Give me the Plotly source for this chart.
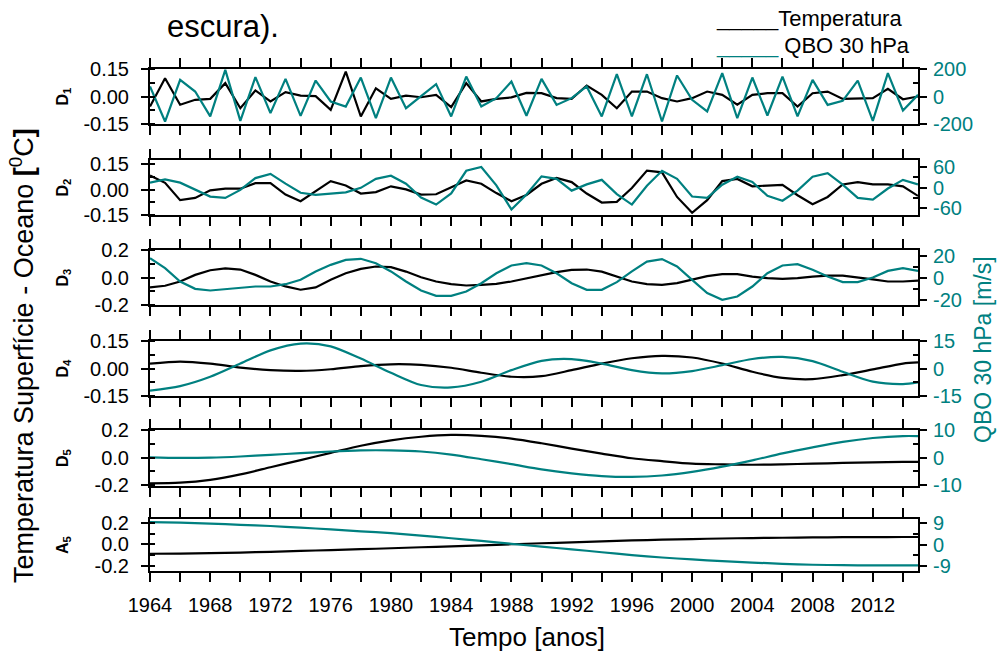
import plotly.graph_objects as go

# ---------------- data ----------------
years = list(range(1964, 2016))
years2 = list(range(1964, 2015, 2)) + [2015]

d1_temp = [-0.055, 0.10, -0.045, -0.018, -0.013, 0.073, -0.064, 0.033, -0.027, 0.024, 0.005, 0.002,
           -0.073, 0.136, -0.109, 0.045, -0.013, 0.005, -0.004, 0.009, -0.058, 0.073, -0.027, -0.013,
           -0.005, 0.020, 0.018, -0.009, -0.013, 0.060, 0.009, -0.064, 0.027, 0.027, -0.009, -0.027,
           -0.009, 0.027, 0.009, -0.045, 0.009, 0.018, 0.018, -0.055, 0.018, 0.027, -0.013, -0.009,
           -0.009, 0.042, -0.015, 0.0]
d1_qbo = [73, -182, 121, 36, -145, 194, -177, 141, -121, 128, -141, 116,
          -36, -73, 138, -158, 138, -85, 2, 90, -145, 145, -73, -12,
          109, -140, 128, -61, -12, 73, -145, 162, -145, 162, -182, 153,
          -24, -109, 170, -158, 138, -138, 145, -145, 121, -61, -32, 116,
          -177, 170, -102, 12]

d2_temp = [0.084, 0.041, -0.062, -0.049, -0.004, 0.006, 0.006, 0.039, 0.039, -0.029, -0.068, -0.010,
           0.051, 0.025, -0.023, -0.014, 0.020, 0.002, -0.029, -0.027, 0.016, 0.055, 0.035, -0.020,
           -0.068, -0.031, 0.035, 0.070, 0.045, -0.023, -0.076, -0.072, 0.010, 0.113, 0.103, -0.043,
           -0.137, -0.062, 0.051, 0.064, 0.020, 0.025, 0.029, -0.033, -0.086, -0.043, 0.031, 0.045,
           0.031, 0.031, 0.020, -0.037]
d2_qbo = [14, 23, 14, -6, -26, -30, -7, 27, 39, 11, -15, -21,
          -18, -14, -1, 25, 34, 11, -29, -49, -17, 48, 59, 6,
          -63, -20, 32, 25, -9, 9, 22, -19, -49, 5, 48, 25,
          -26, -30, 8, 31, 16, -24, -38, -9, 31, 41, 8, -30,
          -35, -3, 22, 9]

d3_temp = [-0.072, -0.060, -0.029, 0.019, 0.053, 0.067, 0.058, 0.019, -0.029, -0.065, -0.089, -0.072,
           -0.017, 0.031, 0.063, 0.080, 0.075, 0.043, 0.002, -0.029, -0.048, -0.058, -0.053, -0.046,
           -0.029, -0.005, 0.019, 0.039, 0.055, 0.058, 0.043, 0.007, -0.029, -0.048, -0.053, -0.041,
           -0.017, 0.010, 0.024, 0.024, 0.007, -0.005, -0.010, -0.005, 0.007, 0.014, 0.014, 0.002,
           -0.014, -0.029, -0.029, -0.022]
d3_qbo = [17.6, 8.5, -3.6, -10.3, -11.8, -10.6, -8.8, -8.2, -8.2, -6.1, -2.1, 5.5,
          11.5, 16, 17, 13, 5.5, -3.6, -11.8, -16.7, -16.7, -12.7, -5.2, 3.9,
          10.9, 13, 10.9, 3.9, -5.2, -11.2, -11.2, -4.2, 5.5, 14.5, 16.7, 10,
          -2.1, -14.2, -20.3, -17.3, -8.2, 3.9, 10.9, 12.1, 7, 0.9, -4.2, -4.2,
          0, 6, 8.5, 6]

d4_temp = [0.027, 0.038, 0.027, 0.005, -0.009, -0.013, -0.004, 0.013, 0.023, 0.020, 0.004, -0.023,
           -0.045, -0.042, -0.009, 0.027, 0.056, 0.069, 0.060, 0.027, -0.018, -0.051, -0.058, -0.036,
           -0.005, 0.027, 0.033]
d4_qbo = [-12.1, -9.6, -4.5, 2.7, 9.9, 13.6, 12.1, 5.4, -2.3, -9, -10.3, -7.2,
          -0.9, 4.2, 5.1, 2.7, -0.9, -2.7, -1.4, 1.8, 5.2, 6.3, 4, -1.8,
          -7.2, -8.5, -7.6]

d5_temp = [-0.187, -0.182, -0.161, -0.122, -0.070, -0.018, 0.034, 0.086, 0.125, 0.151, 0.164, 0.158,
           0.138, 0.104, 0.065, 0.029, -0.005, -0.026, -0.044, -0.049, -0.052, -0.049, -0.044, -0.039,
           -0.034, -0.031, -0.031]
d5_qbo = [0.1, -0.1, 0, 0.4, 1, 1.6, 2.2, 2.6, 2.6, 2.2, 1.1, -0.6,
          -2.4, -4.3, -5.7, -6.7, -7, -6.5, -5.2, -3.3, -1, 1.5, 3.7, 5.7,
          7.1, 7.8, 7.8]

a5_temp = [-0.086, -0.084, -0.080, -0.075, -0.068, -0.060, -0.052, -0.044, -0.035, -0.026, -0.017, -0.008,
           0.002, 0.011, 0.020, 0.029, 0.037, 0.044, 0.050, 0.055, 0.059, 0.062, 0.065, 0.067,
           0.068, 0.069, 0.069]
a5_qbo = [9.3, 9.1, 8.7, 8.2, 7.7, 7.0, 6.3, 5.5, 4.7, 3.7, 2.6, 1.5,
          0.3, -0.9, -2.0, -3.2, -4.4, -5.4, -6.2, -6.9, -7.5, -8.0, -8.4, -8.6,
          -8.7, -8.7, -8.7]

panel_names = ["D", "D", "D", "D", "D", "A"]
panel_subs = ["1", "2", "3", "4", "5", "5"]
x_ticks = list(range(1964, 2013, 4))

left_ticks = [[-0.15, 0, 0.15], [-0.15, 0, 0.15], [-0.2, 0, 0.2], [-0.15, 0, 0.15], [-0.2, 0, 0.2], [-0.2, 0, 0.2]]
left_text = [["-0.15", "0.00", "0.15"], ["-0.15", "0.00", "0.15"], ["-0.2", "0.0", "0.2"],
             ["-0.15", "0.00", "0.15"], ["-0.2", "0.0", "0.2"], ["-0.2", "0.0", "0.2"]]
right_ticks = [[-200, 0, 200], [-60, 0, 60], [-20, 0, 20], [-15, 0, 15], [-10, 0, 10], [-9, 0, 9]]

# ---------------- style / layout ----------------
TEAL = "#008080"
W, H = 1003, 655
x0px, x1px = 150, 918
frames = [(69, 124), (160, 215), (250, 305), (341, 396), (430, 486), (519, 571)]
left_range = [[-0.15, 0.15], [-0.15, 0.176], [-0.2, 0.2], [-0.15, 0.15], [-0.206, 0.2], [-0.245, 0.235]]
right_range = [[-200, 200], [-79, 79], [-25, 25], [-15, 15], [-10.3, 10], [-11.0, 10.6]]
left_minor = [[-0.075, 0.075], [-0.075, 0.075], [-0.1, 0.1], [-0.075, 0.075], [-0.1, 0.1], [-0.1, 0.1]]
right_minor = [[-100, 100], [-30, 30], [-10, 10], [-7.5, 7.5], [-5, 5], [-4.5, 4.5]]

series = [
    (years, d1_temp, d1_qbo, "linear"),
    (years, d2_temp, d2_qbo, "linear"),
    (years, d3_temp, d3_qbo, "linear"),
    (years2, d4_temp, d4_qbo, "spline"),
    (years2, d5_temp, d5_qbo, "spline"),
    (years2, a5_temp, a5_qbo, "spline"),
]

FONT = "Liberation Sans, Arial, sans-serif"
fig = go.Figure()
layout = dict(
    width=W, height=H, margin=dict(l=0, r=0, t=0, b=0, autoexpand=False),
    paper_bgcolor="white", plot_bgcolor="white", showlegend=False,
    font=dict(family=FONT, color="black"),
)
annotations = []

for i, (xs, t, q, shape) in enumerate(series):
    n = i + 1
    xa = "x" if n == 1 else f"x{n}"
    yl_id = 2 * i + 1
    yr_id = 2 * i + 2
    yl = "y" if yl_id == 1 else f"y{yl_id}"
    yr = f"y{yr_id}"
    fig.add_trace(go.Scatter(x=xs, y=q, xaxis=xa, yaxis=yr, mode="lines",
                             line=dict(color=TEAL, width=2.2, shape=shape, smoothing=0.8)))
    fig.add_trace(go.Scatter(x=xs, y=t, xaxis=xa, yaxis=yl, mode="lines",
                             line=dict(color="black", width=2.2, shape=shape, smoothing=0.8)))
    top, bot = frames[i]
    dom = [1 - bot / H, 1 - top / H]
    last = (i == 5)
    layout["xaxis" if n == 1 else f"xaxis{n}"] = dict(
        domain=[x0px / W, x1px / W], anchor=yl, range=[1964, 2015], automargin=False,
        tickmode="array", tickvals=x_ticks, ticktext=[str(v) for v in x_ticks],
        showticklabels=last, ticks="outside", ticklen=9, tickwidth=2, tickcolor="black",
        ticklabelstandoff=6,
        minor=dict(tickmode="array", tickvals=list(range(1966, 2015, 4)), ticks="outside",
                   ticklen=5, tickwidth=2, tickcolor="black"),
        showline=True, linewidth=2, linecolor="black", mirror="allticks",
        showgrid=False, zeroline=False,
        tickfont=dict(size=20, family=FONT, color="black"),
    )
    layout[f"yaxis{yl_id}" if yl_id > 1 else "yaxis"] = dict(
        domain=dom, anchor=xa, range=left_range[i], automargin=False,
        tickmode="array", tickvals=left_ticks[i], ticktext=left_text[i],
        ticks="outside", ticklen=7, tickwidth=2, tickcolor="black",
        ticklabelstandoff=8,
        minor=dict(tickmode="array", tickvals=left_minor[i] + left_ticks[i], ticks="inside",
                   ticklen=5, tickwidth=2, tickcolor="black"),
        showline=True, linewidth=2, linecolor="black",
        showgrid=False, zeroline=False,
        tickfont=dict(size=20, family=FONT, color="black"),
    )
    layout[f"yaxis{yr_id}"] = dict(
        domain=dom, anchor=xa, overlaying=yl, side="right", range=right_range[i], automargin=False,
        tickmode="array", tickvals=right_ticks[i], ticktext=[str(v) for v in right_ticks[i]],
        ticks="outside", ticklen=7, tickwidth=2, tickcolor="black",
        ticklabelstandoff=2,
        minor=dict(tickmode="array", tickvals=right_minor[i], ticks="inside",
                   ticklen=5, tickwidth=2, tickcolor="black"),
        showline=True, linewidth=2, linecolor="black",
        showgrid=False, zeroline=False,
        tickfont=dict(size=20, family=FONT, color=TEAL),
    )
    annotations.append(dict(
        x=63 / W, y=1 - (top + bot) / 2 / H, xref="paper", yref="paper",
        text=f"<b>{panel_names[i]}<sub>{panel_subs[i]}</sub></b>", textangle=-90,
        showarrow=False, font=dict(size=16, family=FONT, color="black"),
        xanchor="center", yanchor="middle"))

annotations += [
    dict(x=22 / W, y=1 - 356 / H, xref="paper", yref="paper", textangle=-90, showarrow=False,
         text="Temperatura Superfície - Oceano <b>[</b><sup>0</sup>C<b>]</b>",
         font=dict(size=27, family=FONT, color="black"), xanchor="center", yanchor="middle"),
    dict(x=983 / W, y=1 - 350 / H, xref="paper", yref="paper", textangle=-90, showarrow=False,
         text="QBO 30 hPa [m/s]", font=dict(size=23, family=FONT, color=TEAL),
         xanchor="center", yanchor="middle"),
    dict(x=527 / W, y=1 - 637 / H, xref="paper", yref="paper", showarrow=False,
         text="Tempo [anos]", font=dict(size=26, family=FONT, color="black"),
         xanchor="center", yanchor="middle"),
    dict(x=165 / W, y=1 - 27 / H, xref="paper", yref="paper", showarrow=False,
         text="escura).", font=dict(size=31, family=FONT, color="black"),
         xanchor="left", yanchor="middle"),
    dict(x=714 / W, y=1 - 19 / H, xref="paper", yref="paper", showarrow=False,
         text="_____Temperatura", font=dict(size=22, family=FONT, color="black"),
         xanchor="left", yanchor="middle"),
    dict(x=714 / W, y=1 - 45 / H, xref="paper", yref="paper", showarrow=False,
         text=f"<span style='color:{TEAL}'>_____</span> QBO 30 hPa",
         font=dict(size=22, family=FONT, color="black"),
         xanchor="left", yanchor="middle"),
]
layout["annotations"] = annotations
fig.update_layout(**layout)
fig.write_html("out.html", config={"displayModeBar": False},
               post_script="document.body.style.margin='0px';document.body.style.overflow='hidden';")
